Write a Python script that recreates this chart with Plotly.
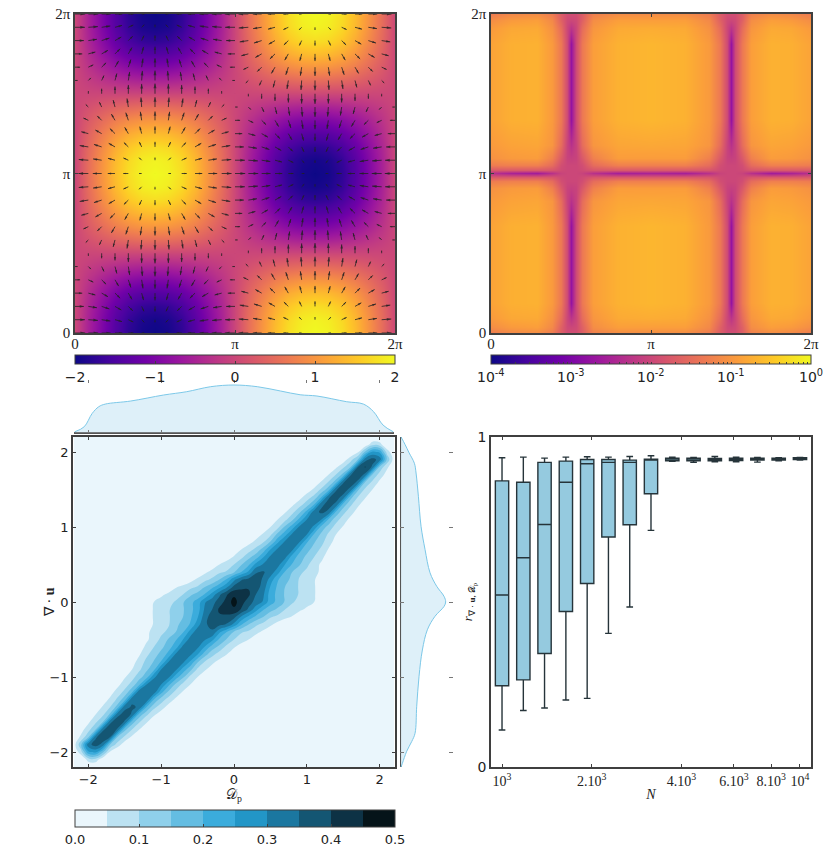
import numpy as np
import plotly.graph_objects as go

# ---------- top left: divergence field and its velocity arrows (grid step pi/12) ----------
grid_steps = list(range(25))
wave_a = [0, .26, .5, .71, .87, .97, 1, .97, .87, .71, .5, .26, 0, -.26, -.5, -.71, -.87, -.97, -1, -.97, -.87, -.71, -.5, -.26, 0]
wave_b = [1, .97, .87, .71, .5, .26, 0, -.26, -.5, -.71, -.87, -.97, -1, -.97, -.87, -.71, -.5, -.26, 0, .26, .5, .71, .87, .97, 1]
field_peak = 2.0

# ---------- top right: log10 of the error map, x100, rows read across the panel ----------
err_x = [0, .4, .9, 1.2, 1.38, 1.5, 1.58, 1.66, 1.78, 2.0, 2.5, 3.14, 3.8, 4.28, 4.5, 4.64, 4.72, 4.8, 4.92, 5.1, 5.5, 5.9, 6.28]
err_y = [0, .12, .3, .6, 1.0, 1.57, 2.1, 2.6, 2.85, 3.0, 3.08, 3.15, 3.22, 3.3, 3.45, 3.7, 4.2, 4.71, 5.3, 5.7, 6.0, 6.16, 6.28]
row_edge = [-130, -115, -110, -130, -170, -190, -190, -190, -170, -125, -110, -110, -110, -130, -170, -190, -190, -190, -170, -125, -110, -115, -130]
row_near = [-110, -95, -90, -115, -165, -195, -200, -195, -165, -110, -90, -90, -90, -115, -165, -195, -200, -195, -165, -110, -90, -95, -110]
row_inner = [-95, -80, -78, -105, -150, -200, -225, -200, -150, -100, -78, -75, -78, -105, -150, -200, -225, -200, -150, -100, -78, -80, -95]
row_cell = [-85, -72, -70, -95, -135, -195, -275, -195, -135, -90, -70, -65, -70, -95, -135, -195, -275, -195, -135, -90, -70, -72, -85]
row_far = [-95, -85, -82, -100, -150, -205, -230, -205, -150, -100, -82, -80, -82, -100, -150, -205, -230, -205, -150, -100, -82, -85, -95]
row_a = [-105, -95, -92, -125, -175, -205, -210, -205, -175, -125, -92, -92, -92, -125, -175, -205, -210, -205, -175, -125, -92, -95, -105]
row_b = [-130, -125, -125, -150, -190, -200, -200, -200, -190, -150, -125, -125, -125, -150, -190, -200, -200, -200, -190, -150, -125, -125, -130]
row_c = [-175, -175, -175, -180, -195, -200, -200, -200, -195, -180, -175, -175, -175, -180, -195, -200, -200, -200, -195, -180, -175, -175, -175]
row_d = [-230, -250, -260, -230, -205, -200, -200, -200, -205, -230, -255, -250, -255, -230, -205, -200, -200, -200, -205, -230, -260, -250, -230]
err_rows = [row_edge, row_near, row_inner, row_cell, row_cell, row_cell, row_cell, row_far, row_a, row_b, row_c, row_d,
            row_c, row_b, row_a, row_far, row_cell, row_cell, row_cell, row_cell, row_inner, row_near, row_edge]
err_ticks = [-4, -3, -2, -1, 0]
err_ticktext = ["10<sup>-4</sup>", "10<sup>-3</sup>", "10<sup>-2</sup>", "10<sup>-1</sup>", "10<sup>0</sup>"]

# ---------- bottom left: joint density (x100) on a 0.1 grid, -2.2..2.2 ----------
# One row per y: value on the ridge x=y, then values stepping 0.1 to the left of it.
# The side right of the ridge in row y reads the same as the left side in row -y.
density_grid = [round(-2.2 + .1 * i, 1) for i in range(45)]
ridge_rows = [
    [0], [0], [24, 8], [37.5, 33, 14, 2], [39, 34, 14, 6, 1], [38.5, 34, 15, 8, 3], [38, 34, 15, 9, 4, 1],
    [37, 33.5, 16, 9, 5, 2], [35.5, 33.5, 17, 10, 5.5, 2], [34.9, 34, 18, 11, 6, 2.5], [34.5, 34, 19, 11.5, 7, 3, 1],
    [34, 30, 19, 12, 7.5, 3.5, 1], [33.5, 29, 18, 13, 8, 4.5, 2], [33, 30, 19, 14, 9, 5, 2],
    [33, 30, 20.5, 15.5, 11.5, 7, 3], [33, 31, 21.5, 17, 12.5, 9, 4.5, 1], [33.5, 31.5, 22.5, 18, 13.5, 10, 6.5, 2],
    [34, 32, 25, 19.5, 15.5, 11, 7.5, 4, 1], [34.5, 33, 27, 19.5, 15, 11, 9, 6.5, 4, 1],
    [36, 34.5, 28, 20.5, 17, 13.5, 9.5, 7, 5.5, 2], [39, 37.5, 33, 24.5, 19, 15, 12, 9.5, 7.5, 5.5, 2],
    [43, 41, 35, 31, 22.5, 18.5, 14.5, 12, 9.5, 8, 5.5, 2], [47, 42, 37.5, 33, 29.5, 22, 18.5, 14.5, 10.5, 8.5, 7, 5, 1],
    [43, 44, 39.5, 34, 27, 20.5, 17, 14, 10, 8, 6, 4, 1], [39.5, 38.5, 36.5, 29, 23.5, 18.5, 15, 10.5, 8.5, 6.5, 4.5, 1.5],
    [37, 36.5, 34.5, 28.5, 20.5, 15, 11, 8.5, 6, 3], [35.5, 34.5, 26, 20, 14.5, 10.5, 9, 6.5, 4, 1],
    [34, 30.5, 26.5, 19, 14.5, 10, 7.5, 5, 2], [33, 31, 24.5, 17.5, 13.5, 8.5, 5.5, 2.5], [33, 31, 25, 17, 11.5, 7.5, 5, 2],
    [32.5, 31, 24, 15.5, 9.5, 6, 3.5, 1], [32.5, 31, 23, 16.5, 9, 5.5, 3], [33, 31, 22.5, 16, 8.5, 5, 2.5],
    [33.5, 30, 21.5, 14, 8.5, 5, 2], [36, 33, 22, 14, 8.5, 4.5, 2], [36.5, 34, 20, 12.5, 8, 4, 1], [37, 34.5, 20, 11.5, 7.5, 3],
    [37.5, 34.5, 18, 11, 6, 2], [38, 34.5, 17.5, 10.5, 5.5, 1], [38.5, 34.5, 16.5, 10, 5, 1], [40.5, 35, 15, 9, 4], [37, 33, 15, 8, 2],
    [24, 26, 16, 4], [0, 7, 8, 1], [0],
]
band_colors = ["#EAF6FC", "#BCE2F2", "#8FD0EB", "#64BDE2", "#3BACDC", "#2296C7", "#1B77A0", "#145673", "#0D3245", "#051419"]
density_ticks = [0, .1, .2, .3, .4, .5]

top_x = [-2.19, -2.06, -1.95, -1.86, -1.77, -1.42, -.97, -.65, -.32, 0, .32, .64, .91, 1.14, 1.55, 1.78, 1.92, 2.05, 2.19]
top_h = [.005, .041, .137, .185, .204, .226, .269, .293, .329, .341, .329, .298, .271, .262, .221, .204, .149, .053, .005]
side_y = [2.2, 2.1, 1.99, 1.85, 1.72, 1.41, 1.01, .7, .39, .21, .076, 0, -.06, -.19, -.37, -.64, -.99, -1.39, -1.75, -1.86, -1.99, -2.15, -2.2]
side_h = [0, .03, .06, .1, .1125, .13, .15, .18, .2175, .2675, .3225, .335, .3225, .255, .1975, .16, .135, .1175, .105, .08, .0425, .01, 0]

# ---------- bottom right: correlation boxes ----------
box_n = [1000, 1179, 1389, 1638, 1931, 2276, 2683, 3162, 3728, 4394, 5179, 6105, 7197, 8483, 10000]
box_high = [.937, .939, .936, .939, .940, .939, .941, .943, .939, .938, .941, .939, .938, .937, .938]
box_q3 = [.867, .863, .923, .927, .932, .932, .930, .933, .936, .936, .935, .936, .936, .936, .937]
box_med = [.521, .634, .735, .863, .919, .923, .923, .931, .933, .933, .932, .933, .933, .933, .935]
box_q1 = [.246, .264, .344, .471, .556, .697, .734, .828, .928, .928, .928, .929, .930, .930, .932]
box_low = [.112, .171, .179, .203, .208, .405, .485, .717, .926, .923, .925, .925, .924, .928, .930]
n_ticks = [1000, 2000, 4000, 6000, 8000, 10000]
n_ticktext = ["10<sup>3</sup>", "2.10<sup>3</sup>", "4.10<sup>3</sup>", "6.10<sup>3</sup>", "8.10<sup>3</sup>", "10<sup>4</sup>"]

W, H = 830, 858
FRAME = "#3f3f3f"
SANS = "DejaVu Sans"
SERIF = "Liberation Serif"


def dom_x(a, b):
    return [a / W, b / W]


def dom_y(top, bottom):
    return [1 - bottom / H, 1 - top / H]


def framed(**kw):
    base = dict(showline=True, linecolor=FRAME, linewidth=1.5, mirror="allticks", ticks="inside", ticklen=3,
                tickcolor=FRAME, tickwidth=1, showgrid=False, zeroline=False)
    base.update(kw)
    return base


PI = np.pi
pi_ticks = dict(tickmode="array", tickvals=[0, PI, 2 * PI], ticktext=["0", "π", "2π"],
                tickfont=dict(family=SERIF, size=15, color="#222"), range=[0, 2 * PI])

fig = go.Figure()

# top left
pos = np.array(grid_steps) * PI / 12
a = np.array(wave_a)
b = np.array(wave_b)
Z1 = -field_peak * np.outer(b, a)
U = np.outer(b, b)
V = -np.outer(a, a)
fig.add_trace(go.Heatmap(x=pos, y=pos, z=Z1, colorscale="Plasma", zmin=-2, zmax=2, zsmooth="best", xaxis="x", yaxis="y",
                         hoverinfo="skip",
                         colorbar=dict(orientation="h", xref="paper", yref="paper", x=235 / W, xanchor="center", y=1 - 355 / H,
                                       yanchor="top", ypad=0, xpad=0, lenmode="pixels", len=320, thicknessmode="pixels",
                                       thickness=9, outlinecolor=FRAME, outlinewidth=1, ticks="inside", ticklen=3,
                                       tickcolor=FRAME, tickmode="array", tickvals=[-2, -1, 0, 1, 2],
                                       tickfont=dict(family=SANS, size=14, color="#222"))))
X, Y = np.meshgrid(pos, pos)
scale = 0.2
tipx, tipy = X + U * scale, Y + V * scale
segx = np.column_stack([X.ravel(), tipx.ravel(), np.full(X.size, np.nan)]).ravel()
segy = np.column_stack([Y.ravel(), tipy.ravel(), np.full(X.size, np.nan)]).ravel()
fig.add_trace(go.Scatter(x=segx, y=segy, mode="lines", line=dict(color="#222222", width=0.8), xaxis="x", yaxis="y",
                         hoverinfo="skip", showlegend=False))
mag = np.hypot(U, V).ravel()
fig.add_trace(go.Scatter(x=tipx.ravel(), y=tipy.ravel(), mode="markers", xaxis="x", yaxis="y", hoverinfo="skip", showlegend=False,
                         marker=dict(symbol="arrow", size=5 * np.clip(mag, .05, 1), color="#222222", line=dict(width=0),
                                     angle=np.degrees(np.arctan2(U.ravel(), V.ravel())))))

# top right
minor = [float(np.log10(m) + e) for e in (-4, -3, -2, -1) for m in (2, 3, 4, 5, 6, 7, 8, 9)]
fig.add_trace(go.Heatmap(x=err_x, y=err_y, z=np.array(err_rows) / 100, colorscale="Plasma", zmin=-4, zmax=0, zsmooth="best",
                         xaxis="x2", yaxis="y2", hoverinfo="skip",
                         colorbar=dict(orientation="h", xref="paper", yref="paper", x=651 / W, xanchor="center", y=1 - 355 / H,
                                       yanchor="top", ypad=0, xpad=0, lenmode="pixels", len=320, thicknessmode="pixels",
                                       thickness=9, outlinecolor=FRAME, outlinewidth=1, ticks="inside", ticklen=2,
                                       tickcolor=FRAME, tickmode="array", tickvals=err_ticks + minor, showticklabels=False)))
notes = [dict(xref="paper", yref="paper", x=(491 + 320 * (t + 4) / 4) / W, y=1 - 365 / H, xanchor="center", yanchor="top",
              text=s, showarrow=False, font=dict(family=SANS, size=14, color="#222"))
         for t, s in zip(err_ticks, err_ticktext)]
notes.append(dict(xref="paper", yref="paper", x=49 / W, y=1 - 602 / H, xanchor="center", yanchor="middle", textangle=-90,
                  text="∇ · <b>u</b>", showarrow=False, font=dict(family=SERIF, size=14, color="#222")))

# joint density
Zd = np.zeros((45, 45))
for iy, row in enumerate(ridge_rows):
    mirror_row = ridge_rows[44 - iy]
    for k, val in enumerate(row):
        if iy - k >= 0:
            Zd[iy, iy - k] = val
    for k, val in enumerate(mirror_row):
        if k > 0 and iy + k <= 44:
            Zd[iy, iy + k] = val
Zd /= 100
scale_d = [[i / 9, c] for i, c in enumerate(band_colors)]
fig.add_trace(go.Contour(x=density_grid, y=density_grid, z=Zd, colorscale=scale_d, zmin=0, zmax=.5, xaxis="x3", yaxis="y3",
                         autocontour=False, contours=dict(type="levels", start=.05, end=.45, size=.05, coloring="fill"),
                         line=dict(width=0, smoothing=1.3), hoverinfo="skip",
                         colorbar=dict(orientation="h", xref="paper", yref="paper", x=235 / W, xanchor="center", y=1 - 810 / H,
                                       yanchor="top", ypad=0, xpad=0, lenmode="pixels", len=320, thicknessmode="pixels",
                                       thickness=17, outlinecolor=FRAME, outlinewidth=1, ticks="inside", ticklen=3,
                                       tickcolor=FRAME, tickmode="array", tickvals=density_ticks, tickformat=".1f",
                                       tickfont=dict(family=SANS, size=13, color="#222"))))

# marginals
KDE_LINE = "#7CC8E8"
KDE_FILL = "#DEF0F9"
fig.add_trace(go.Scatter(x=top_x, y=top_h, mode="lines", line=dict(color=KDE_LINE, width=1, shape="spline"), fill="tozeroy",
                         fillcolor=KDE_FILL, xaxis="x4", yaxis="y4", hoverinfo="skip", showlegend=False))
fig.add_trace(go.Scatter(x=side_h, y=side_y, mode="lines", line=dict(color=KDE_LINE, width=1, shape="spline"), fill="tozerox",
                         fillcolor=KDE_FILL, xaxis="x5", yaxis="y5", hoverinfo="skip", showlegend=False))

# boxes
fig.add_trace(go.Box(x=box_n, q1=box_q1, median=box_med, q3=box_q3, lowerfence=box_low, upperfence=box_high, width=.0447,
                     whiskerwidth=.5, fillcolor="#95CADF", line=dict(color="#26343A", width=1.4), boxpoints=False,
                     xaxis="x6", yaxis="y6", hoverinfo="skip", showlegend=False))

num_font = dict(family=SANS, size=13, color="#222")
title_font = dict(family=SERIF, size=14, color="#222")
marg_ticks = [-2, -1, 0, 1, 2]
hidden_line = "rgba(0,0,0,0)"
fig.update_layout(
    width=W, height=H, margin=dict(l=0, r=0, t=0, b=0, autoexpand=False), paper_bgcolor="white", plot_bgcolor="white", showlegend=False,
    hovermode=False, annotations=notes,
    xaxis=framed(domain=dom_x(75, 395), anchor="y", ticklabelstandoff=-4, **pi_ticks),
    yaxis=framed(domain=dom_y(14, 333), anchor="x", **pi_ticks),
    xaxis2=framed(domain=dom_x(491, 811), anchor="y2", ticklabelstandoff=-4, **pi_ticks),
    yaxis2=framed(domain=dom_y(14, 333), anchor="x2", **pi_ticks),
    xaxis3=framed(domain=dom_x(73, 395), anchor="y3", range=[-2.21, 2.21], tickmode="array", tickvals=marg_ticks, tickfont=num_font,
                  title=dict(text="𝒟<sub>p</sub>", font=title_font, standoff=2)),
    yaxis3=framed(domain=dom_y(437, 767), anchor="x3", range=[-2.2, 2.2], tickmode="array", tickvals=marg_ticks, tickfont=num_font),
    xaxis4=dict(domain=dom_x(74, 394), anchor="y4", range=[-2.2, 2.2], showline=True, linecolor=hidden_line, mirror="ticks", ticks="inside",
                ticklen=3, tickcolor="#777", tickmode="array", tickvals=marg_ticks, showticklabels=False, showgrid=False, zeroline=False),
    yaxis4=dict(domain=dom_y(380, 432.5), anchor="x4", range=[0, .377], showticklabels=False, ticks="", showgrid=False,
                zeroline=True, zerolinecolor="#555", zerolinewidth=2, showline=False),
    xaxis5=dict(domain=dom_x(400, 453), anchor="y5", range=[-.008, .39], showticklabels=False, ticks="", showgrid=False,
                zeroline=True, zerolinecolor="#555", zerolinewidth=2, showline=False),
    yaxis5=dict(domain=dom_y(437, 767), anchor="x5", range=[-2.2, 2.2], showline=True, linecolor=hidden_line, mirror="ticks", ticks="inside",
                ticklen=4, tickcolor="#777", tickmode="array", tickvals=marg_ticks, showticklabels=False, showgrid=False, zeroline=False),
    xaxis6=framed(domain=dom_x(491, 811), anchor="y6", type="log", range=[2.963, 4.037], tickmode="array", tickvals=n_ticks, ticktext=n_ticktext,
                  tickfont=dict(family=SERIF, size=14, color="#222"), title=dict(text="<i>N</i>", font=title_font, standoff=2)),
    yaxis6=framed(domain=dom_y(437, 767), anchor="x6", range=[0, 1], tickmode="array", tickvals=[0, 1], tickfont=dict(family=SANS, size=14, color="#222"),
                  title=dict(text="<i>r</i><sub>∇ · <b>u</b>, 𝒟<sub>p</sub></sub>", font=dict(family=SERIF, size=13, color="#222"), standoff=2)),
)
fig.write_html("out.html", post_script="document.body.style.margin='0';", config=dict(displayModeBar=False))
